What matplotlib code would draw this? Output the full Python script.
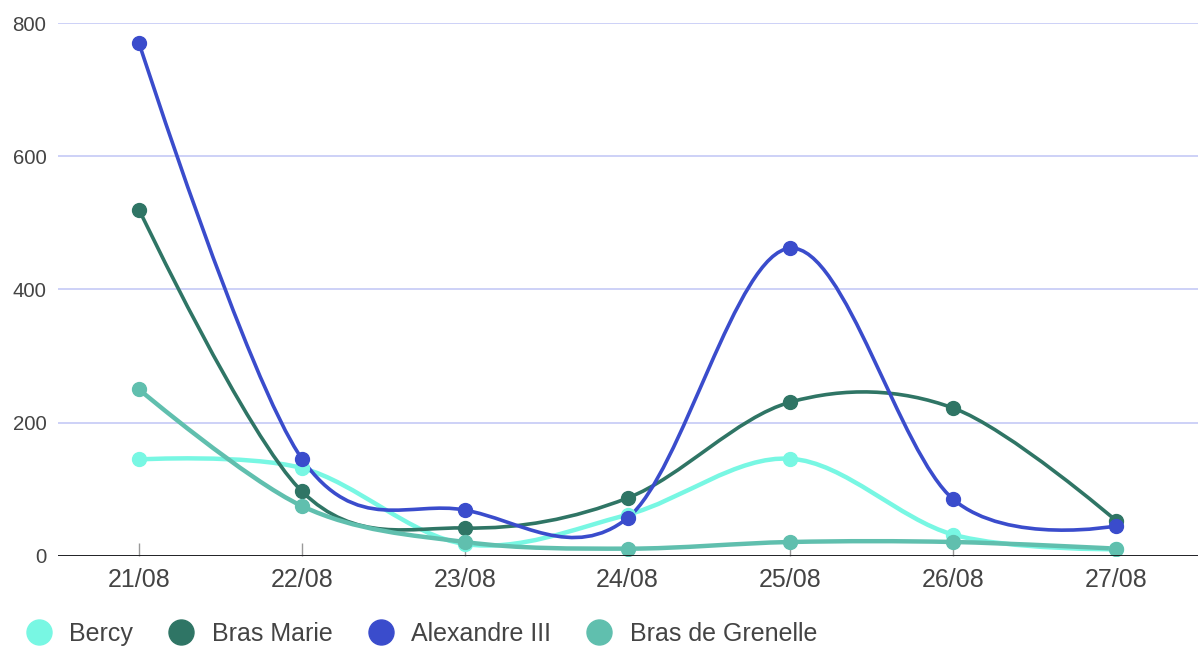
import numpy as np
import matplotlib.pyplot as plt
from matplotlib.path import Path
from matplotlib.patches import PathPatch
from matplotlib.lines import Line2D

plt.rcParams['font.family'] = ['Liberation Sans', 'DejaVu Sans']

days = ['21/08', '22/08', '23/08', '24/08', '25/08', '26/08', '27/08']
bercy = [145, 132, 18, 62, 146, 32, 10]
bras_marie = [520, 97, 42, 87, 231, 222, 53]
alexandre = [770, 146, 69, 57, 462, 85, 45]
grenelle = [250, 75, 21, 11, 21, 21, 11]

series = [('Bercy', bercy, '#78f7e3', 3.2),
          ('Bras Marie', bras_marie, '#2f7565', 2.6),
          ('Alexandre III', alexandre, '#3a4ccc', 2.6),
          ('Bras de Grenelle', grenelle, '#60bfae', 3.2)]


def smooth_path(x, y):
    # catmull-rom style bezier, flat at the ends
    pts = np.column_stack([x, y]).astype(float)
    n = len(pts)
    verts = [pts[0]]
    codes = [Path.MOVETO]
    for i in range(n - 1):
        p0 = pts[i - 1] if i > 0 else pts[i]
        p3 = pts[i + 2] if i + 2 < n else pts[i + 1]
        c1 = pts[i] + (pts[i + 1] - p0) / 6 if i > 0 else pts[i]
        c2 = pts[i + 1] - (p3 - pts[i]) / 6 if i + 2 < n else pts[i + 1]
        verts += [c1, c2, pts[i + 1]]
        codes += [Path.CURVE4] * 3
    return Path(verts, codes)


fig = plt.figure(figsize=(12, 6.48), dpi=100)
ax = fig.add_axes([0.048, 0.142, 0.95, 0.8225])

x = np.arange(len(days))
for name, vals, col, lw in series:
    ax.add_patch(PathPatch(smooth_path(x, vals), facecolor='none', edgecolor=col,
                           lw=lw, capstyle='round', zorder=3))
    ax.plot(x, vals, linestyle='None', marker='o', markersize=10, color=col, zorder=4)

ax.set_xlim(-0.5, 6.5)
ax.set_ylim(0, 800)
ax.set_yticks([0, 200, 400, 600, 800])
ax.set_xticks(x)
ax.set_xticklabels(days)
ax.grid(axis='y', color='#cdd1f7', lw=1.4, zorder=0)
ax.axhline(0, color='#111111', lw=2, zorder=5)
for s in ax.spines.values():
    s.set_visible(False)
ax.tick_params(axis='y', length=0, labelsize=14.7, labelcolor='#444444', pad=8)
ax.tick_params(axis='x', direction='in', length=9.5, width=1, color='#999999',
               labelsize=18, labelcolor='#444444', pad=9)

handles = [Line2D([], [], linestyle='None', marker='o', markersize=18, color=c)
           for _, _, c, _ in series]
fig.legend(handles, [s[0] for s in series], loc='center left', bbox_to_anchor=(26 / 1200, 0.0216),
           ncol=4, frameon=False, fontsize=18, handletextpad=0.72, columnspacing=1.43,
           labelcolor='#444444', handlelength=1.0, borderpad=0, borderaxespad=0)

fig.savefig('out.png', dpi=100)
